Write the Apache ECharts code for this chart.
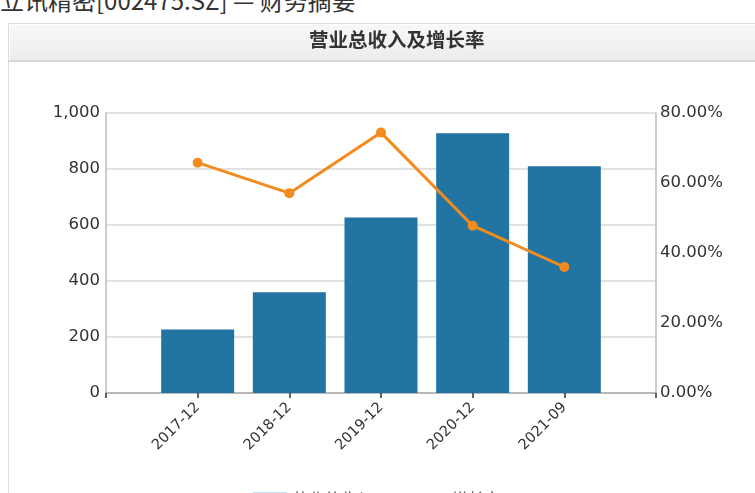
<!DOCTYPE html>
<html>
<head>
<meta charset="utf-8">
<script src="https://cdn.jsdelivr.net/npm/echarts@6/dist/echarts.min.js"></script>
<style>
  html, body { margin: 0; padding: 0; background: #fff; width: 755px; height: 493px; overflow: hidden; position: relative; }
  #pagehead { position: absolute; left: 0; top: -12px; font: 24px/24px "Noto Sans CJK SC", sans-serif; color: #333; white-space: nowrap; }
  #panel { position: absolute; left: 8px; top: 23px; width: 778px; height: 500px; border: 1px solid #dcdcdc; background: #fff; box-sizing: border-box; }
  #panelhead { height: 36px; background: linear-gradient(#f8f8f8, #ececec); border-bottom: 2px solid #d8d8d8; box-shadow: inset 0 1px 0 #fff, inset 1px 0 0 #fff; }
  #chart { position: absolute; left: 0; top: 0; width: 755px; height: 493px; }
</style>
</head>
<body>
<div id="pagehead">立讯精密[002475.SZ] — 财务摘要</div>
<div id="panel"><div id="panelhead"></div></div>
<div id="chart"></div>
<script>
const categories = ['2017-12', '2018-12', '2019-12', '2020-12', '2021-09'];
const revenue = [227, 360, 627, 928, 810];
const growth = [65.8, 57.1, 74.4, 47.8, 36.0];
const leftTicks = [0, 200, 400, 600, 800, 1000];
const rightTicks = [0, 20, 40, 60, 80];
const seriesNames = ['营业总收入', '增长率'];
const chartTitle = '营业总收入及增长率';

const chart = echarts.init(document.getElementById('chart'), null, { renderer: 'canvas' });
const labelFont = 'DejaVu Sans';
chart.setOption({
  backgroundColor: 'transparent',
  animation: false,
  title: {
    text: chartTitle,
    left: 309,
    top: 30,
    padding: 0,
    textStyle: { fontSize: 19.5, fontWeight: 'bold', color: '#333', fontFamily: 'Noto Sans CJK SC' }
  },
  legend: {
    data: [
      { name: seriesNames[0], icon: 'rect', itemStyle: { color: '#bfe0f3' } },
      { name: seriesNames[1] }
    ],
    left: 248,
    top: 486,
    itemWidth: 34,
    itemHeight: 14,
    itemGap: 40,
    textStyle: { fontSize: 16, color: '#555', fontFamily: 'Noto Sans CJK SC' }
  },
  grid: { left: 106, right: 99, top: 113, bottom: 100, containLabel: false },
  xAxis: {
    type: 'value',
    min: -1,
    max: categories.length,
    interval: 1,
    splitLine: { show: false },
    axisLine: { show: true, onZero: false, lineStyle: { color: '#aaaaaa', width: 1.5 } },
    axisTick: { show: true, length: 5, lineStyle: { color: '#333', width: 1.5 } },
    axisLabel: {
      rotate: 45,
      margin: 12,
      fontSize: 14.5,
      color: '#333',
      fontFamily: labelFont,
      showMinLabel: true,
      showMaxLabel: true,
      formatter: v => (categories[v] !== undefined ? categories[v] : '')
    }
  },
  yAxis: [
    {
      type: 'value',
      position: 'left',
      min: leftTicks[0],
      max: leftTicks[leftTicks.length - 1],
      interval: leftTicks[1] - leftTicks[0],
      axisLine: { show: true, onZero: false, lineStyle: { color: '#bdbdbd', width: 1.5 } },
      axisTick: { show: false },
      splitLine: { show: true, lineStyle: { color: '#d9d9d9', width: 1.5 } },
      axisLabel: {
        margin: 6,
        fontSize: 16.5,
        color: '#333',
        fontFamily: labelFont,
        formatter: v => v.toString().replace(/\B(?=(\d{3})+(?!\d))/g, ',')
      }
    },
    {
      type: 'value',
      position: 'right',
      min: rightTicks[0],
      max: rightTicks[rightTicks.length - 1],
      interval: rightTicks[1] - rightTicks[0],
      axisLine: { show: true, onZero: false, lineStyle: { color: '#bdbdbd', width: 1.5 } },
      axisTick: { show: false },
      splitLine: { show: false },
      axisLabel: {
        margin: 4,
        fontSize: 16.5,
        color: '#333',
        fontFamily: labelFont,
        formatter: v => v.toFixed(2) + '%'
      }
    }
  ],
  series: [
    {
      name: seriesNames[0],
      type: 'bar',
      yAxisIndex: 0,
      barWidth: 73,
      itemStyle: { color: '#2275a2' },
      data: revenue.map((v, i) => [i, v])
    },
    {
      name: seriesNames[1],
      type: 'line',
      yAxisIndex: 1,
      symbol: 'circle',
      symbolSize: 10,
      lineStyle: { color: '#f28c1e', width: 3 },
      itemStyle: { color: '#f28c1e' },
      data: growth.map((v, i) => [i, v])
    }
  ]
});
</script>
</body>
</html>
